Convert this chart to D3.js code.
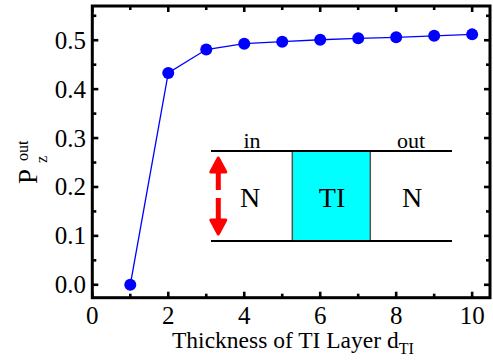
<!DOCTYPE html>
<html>
<head>
<meta charset="utf-8">
<script src="https://cdn.jsdelivr.net/npm/d3@7"></script>
<style>
  body { margin: 0; background: #fff; }
  svg { display: block; }
  svg text { font-family: "Liberation Serif", "Times New Roman", "DejaVu Serif", serif; }
</style>
</head>
<body>
<div id="chart"></div>
<script>
// thickness of the TI layer vs outgoing polarization
const thickness = [1, 2, 3, 4, 5, 6, 7, 8, 9, 10];
const pzOut = [0.0, 0.433, 0.481, 0.493, 0.497, 0.501, 0.504, 0.506, 0.509, 0.512];
const xTicks = [0, 2, 4, 6, 8, 10];
const yTicks = [0.0, 0.1, 0.2, 0.3, 0.4, 0.5];

const width = 493, height = 360;
const plotL = 92.3, plotR = 490, plotT = 6, plotB = 297.7;

const svg = d3.select("#chart").append("svg")
    .attr("width", width)
    .attr("height", height);

const x = d3.scaleLinear().domain([0, 10.47]).range([plotL, plotR]);
const y = d3.scaleLinear().domain([-0.0264, 0.570]).range([plotB, plotT]);

// minor ticks halfway between majors
const xMinor = d3.range(1, 11, 2);
const yMinor = d3.range(0.05, 0.56, 0.1);

function tickLines(g, scale, vals, len, orient) {
    g.append("g").selectAll("line")
        .data(vals)
        .enter().append("line")
        .attr("stroke", "#000")
        .attr("stroke-width", 2.6)
        .each(function (d) {
            let el = d3.select(this);
            let p = scale(d);
            if (orient == "b") el.attr("x1", p).attr("x2", p).attr("y1", plotB).attr("y2", plotB - len);
            if (orient == "t") el.attr("x1", p).attr("x2", p).attr("y1", plotT).attr("y2", plotT + len);
            if (orient == "l") el.attr("y1", p).attr("y2", p).attr("x1", plotL).attr("x2", plotL + len);
            if (orient == "r") el.attr("y1", p).attr("y2", p).attr("x1", plotR).attr("x2", plotR - len);
        });
}

const ticks = svg.append("g");
tickLines(ticks, x, xTicks, 6, "b");
tickLines(ticks, x, xTicks, 6, "t");
tickLines(ticks, x, xMinor, 4, "b");
tickLines(ticks, x, xMinor, 4, "t");
tickLines(ticks, y, yTicks, 6, "l");
tickLines(ticks, y, yTicks, 6, "r");
tickLines(ticks, y, yMinor, 4, "l");
tickLines(ticks, y, yMinor, 4, "r");

// frame
svg.append("rect")
    .attr("x", plotL).attr("y", plotT)
    .attr("width", plotR - plotL).attr("height", plotB - plotT)
    .attr("fill", "none").attr("stroke", "#000").attr("stroke-width", 3);

// tick labels
svg.append("g").selectAll("text")
    .data(xTicks)
    .enter().append("text")
    .attr("x", d => x(d))
    .attr("y", 324)
    .attr("text-anchor", "middle")
    .attr("font-size", 25)
    .text(d => d);

svg.append("g").selectAll("text")
    .data(yTicks)
    .enter().append("text")
    .attr("x", 86)
    .attr("y", d => y(d) + 8.5)
    .attr("text-anchor", "end")
    .attr("font-size", 25)
    .text(d => d.toFixed(1));

// axis titles
const xt = svg.append("text")
    .attr("x", 172)
    .attr("y", 348)
    .attr("font-size", 23.5);
xt.append("tspan").text("Thickness of TI Layer d");
xt.append("tspan").attr("dy", 6).attr("font-size", 16).text("TI");

svg.append("text")
    .attr("transform", "translate(37,184) rotate(-90)")
    .attr("font-size", 27)
    .text("P");
svg.append("text")
    .attr("transform", "translate(28,161) rotate(-90)")
    .attr("font-size", 16)
    .text("out");
svg.append("text")
    .attr("transform", "translate(47,163) rotate(-90)")
    .attr("font-size", 16)
    .text("z");

// inset: N | TI | N junction
const inset = svg.append("g");
inset.append("rect")
    .attr("x", 292.3).attr("y", 151)
    .attr("width", 78).attr("height", 90)
    .attr("fill", "#00ffff")
    .attr("stroke", "#555").attr("stroke-width", 1.5);
inset.selectAll("line.lead")
    .data([151, 241])
    .enter().append("line")
    .attr("x1", 211).attr("x2", 452)
    .attr("y1", d => d).attr("y2", d => d)
    .attr("stroke", "#000").attr("stroke-width", 2);

inset.append("text").attr("x", 252).attr("y", 148).attr("text-anchor", "middle")
    .attr("font-size", 22).text("in");
inset.append("text").attr("x", 411).attr("y", 148).attr("text-anchor", "middle")
    .attr("font-size", 22).text("out");
inset.append("text").attr("x", 250).attr("y", 207).attr("text-anchor", "middle")
    .attr("font-size", 28).text("N");
inset.append("text").attr("x", 332).attr("y", 207).attr("text-anchor", "middle")
    .attr("font-size", 28).text("TI");
inset.append("text").attr("x", 412).attr("y", 207).attr("text-anchor", "middle")
    .attr("font-size", 28).text("N");

// red double arrow (spin)
const ax = 218.3;
inset.append("line")
    .attr("x1", ax).attr("x2", ax)
    .attr("y1", 172).attr("y2", 220)
    .attr("stroke", "#ff0000").attr("stroke-width", 5)
    .attr("stroke-dasharray", "18,8,22");
inset.append("path")
    .attr("d", `M${ax},158 L${ax + 7.5},172 L${ax - 7.5},172 Z`)
    .attr("fill", "#ff0000").attr("stroke", "#ff0000")
    .attr("stroke-width", 3).attr("stroke-linejoin", "round");
inset.append("path")
    .attr("d", `M${ax},234 L${ax + 7.5},220 L${ax - 7.5},220 Z`)
    .attr("fill", "#ff0000").attr("stroke", "#ff0000")
    .attr("stroke-width", 3).attr("stroke-linejoin", "round");

// data
const line = d3.line()
    .x((d, i) => x(thickness[i]))
    .y(d => y(d));

svg.append("path")
    .datum(pzOut)
    .attr("d", line)
    .attr("fill", "none")
    .attr("stroke", "#0000ff")
    .attr("stroke-width", 1.3);

svg.append("g").selectAll("circle")
    .data(pzOut)
    .enter().append("circle")
    .attr("cx", (d, i) => x(thickness[i]))
    .attr("cy", d => y(d))
    .attr("r", 6)
    .attr("fill", "#0000ff");
</script>
</body>
</html>
